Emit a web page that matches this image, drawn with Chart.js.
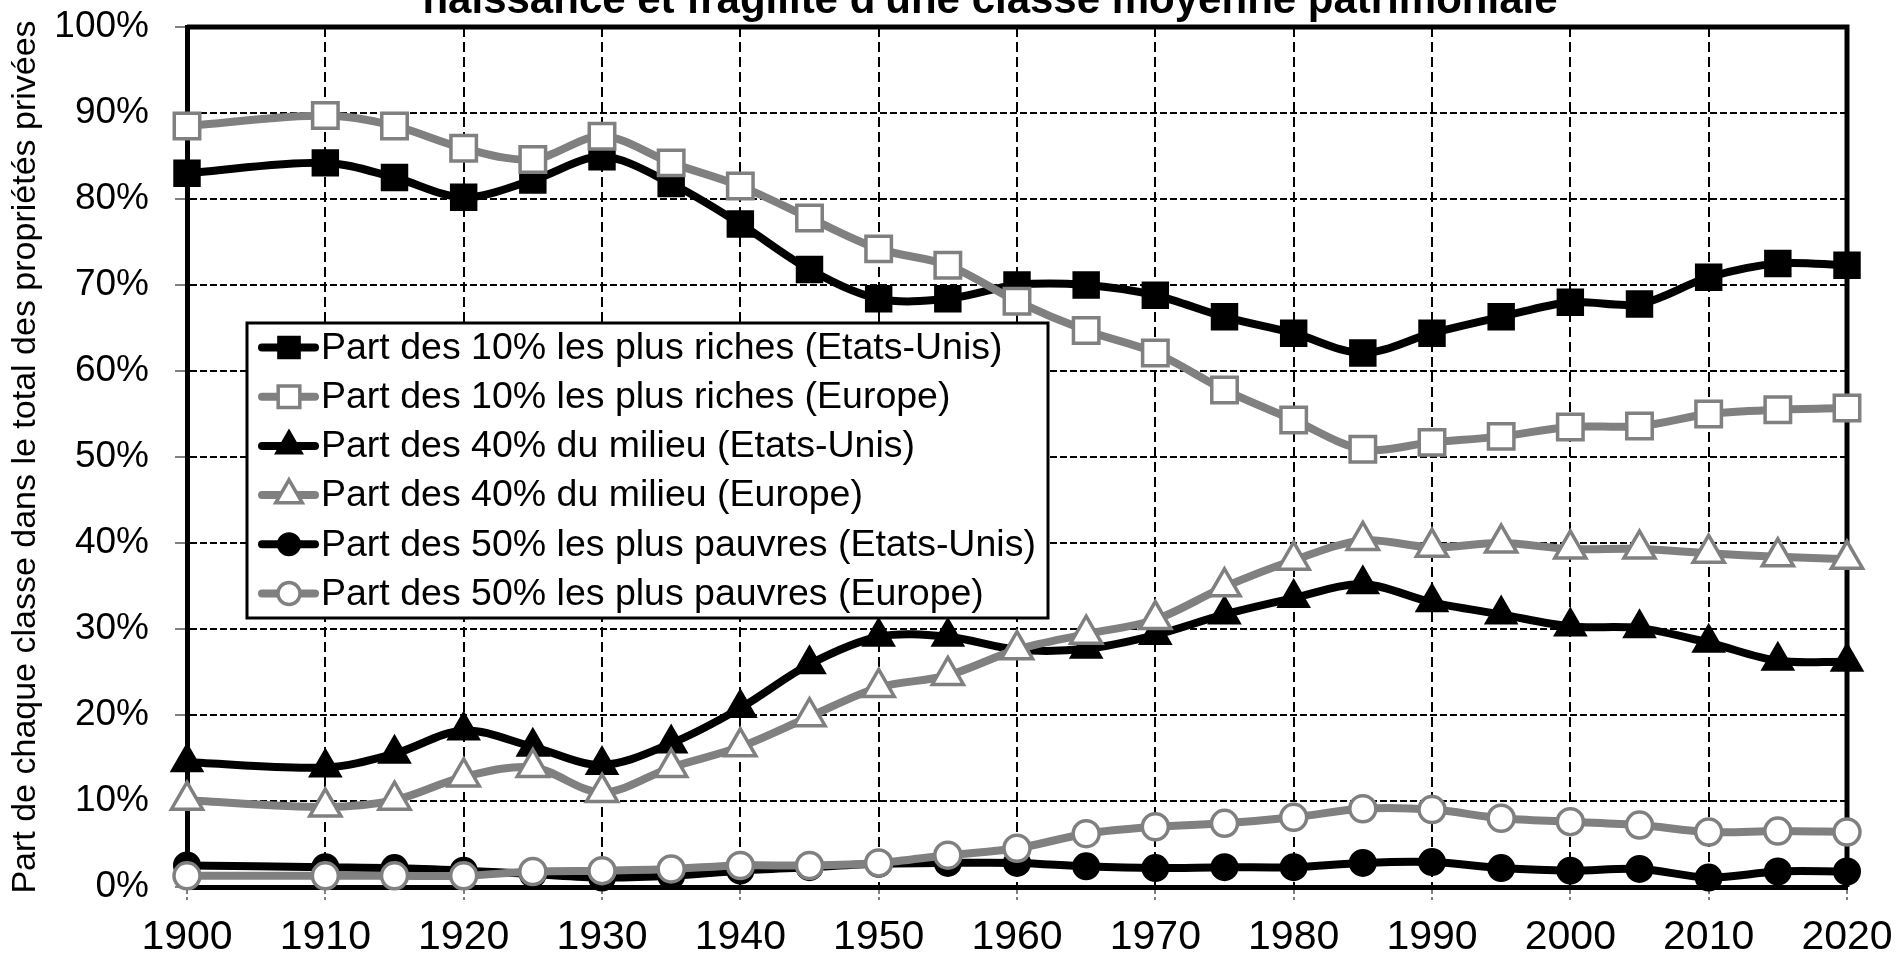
<!DOCTYPE html>
<html>
<head>
<meta charset="utf-8">
<title>Naissance et fragilité d'une classe moyenne patrimoniale</title>
<script src="https://cdn.jsdelivr.net/npm/chart.js"></script>
<style>
  html, body { margin: 0; padding: 0; background: #fff; }
</style>
</head>
<body>
<canvas id="graphique" width="1898" height="953"></canvas>
<script>
// Années (axe x linéaire)
const annees = [1900, 1910, 1915, 1920, 1925, 1930, 1935, 1940, 1945, 1950, 1955, 1960,
                1965, 1970, 1975, 1980, 1985, 1990, 1995, 2000, 2005, 2010, 2015, 2020];

// Parts en % du patrimoine total
const top10US = [83.0, 84.2, 82.5, 80.2, 82.2, 84.9, 81.8, 77.1, 71.8, 68.4, 68.4, 70.0,
                 70.0, 68.8, 66.3, 64.4, 62.1, 64.4, 66.3, 68.0, 67.8, 70.9, 72.5, 72.3];
const top10EU = [88.5, 89.7, 88.5, 85.9, 84.6, 87.3, 84.2, 81.5, 77.8, 74.2, 72.3, 68.1,
                 64.7, 62.1, 57.8, 54.3, 50.9, 51.7, 52.4, 53.5, 53.6, 55.0, 55.5, 55.7];
const mid40US = [14.5, 13.9, 15.5, 18.2, 16.3, 14.2, 16.7, 20.8, 25.9, 29.1, 29.1, 27.6,
                 27.7, 29.3, 31.7, 33.6, 35.2, 33.1, 31.7, 30.3, 30.1, 28.4, 26.3, 26.2];
const mid40EU = [10.1, 9.3, 10.1, 12.8, 13.9, 11.0, 13.9, 16.3, 19.8, 23.2, 24.6, 27.6,
                 29.4, 31.1, 34.9, 38.0, 40.3, 39.5, 40.0, 39.3, 39.3, 38.8, 38.4, 38.1];
const bot50US = [2.5, 2.3, 2.2, 1.9, 1.5, 1.1, 1.3, 1.9, 2.3, 2.7, 2.8, 2.8,
                 2.4, 2.2, 2.3, 2.3, 2.8, 2.9, 2.2, 1.9, 2.1, 1.1, 1.8, 1.8];
const bot50EU = [1.3, 1.3, 1.3, 1.3, 1.8, 1.9, 2.1, 2.5, 2.5, 2.8, 3.7, 4.5,
                 6.2, 7.0, 7.4, 8.1, 9.1, 9.0, 8.0, 7.6, 7.2, 6.4, 6.5, 6.4];

const etiquettesY = ['0%', '10%', '20%', '30%', '40%', '50%', '60%', '70%', '80%', '90%', '100%'];
const legendes = [
  'Part des 10% les plus riches (Etats-Unis)',
  'Part des 10% les plus riches (Europe)',
  'Part des 40% du milieu (Etats-Unis)',
  'Part des 40% du milieu (Europe)',
  'Part des 50% les plus pauvres (Etats-Unis)',
  'Part des 50% les plus pauvres (Europe)'
];
const titre = "naissance et fragilité d'une classe moyenne patrimoniale";
const titreAxeY = 'Part de chaque classe dans le total des propriétés privées';

const police = '"Liberation Sans", Arial, Helvetica, sans-serif';
Chart.defaults.font.family = police;
Chart.defaults.color = '#000';

const NOIR = '#000000';
const GRIS = '#808080';

function serie(label, valeurs, couleur, forme, plein, rayon) {
  return {
    label: label,
    data: annees.map((a, i) => ({ x: a, y: valeurs[i] })),
    borderColor: couleur,
    borderWidth: 8,
    tension: 0.33,
    fill: false,
    clip: false,
    pointStyle: forme,
    pointRadius: rayon,
    pointBackgroundColor: plein ? couleur : '#ffffff',
    pointBorderColor: couleur,
    pointBorderWidth: plein ? 2 : 3.5
  };
}

const datasets = [
  serie(legendes[0], top10US, NOIR, 'rect', true, 18),
  serie(legendes[1], top10EU, GRIS, 'rect', false, 18),
  serie(legendes[2], mid40US, NOIR, 'triangle', true, 18),
  serie(legendes[3], mid40EU, GRIS, 'triangle', false, 18),
  serie(legendes[4], bot50US, NOIR, 'circle', true, 13),
  serie(legendes[5], bot50EU, GRIS, 'circle', false, 13)
];
// les dernières séries passent au-dessus (comme dans Excel)
datasets.forEach((d, i) => { d.order = datasets.length - i; });

// cadre haut + droite
const cadre = {
  id: 'cadre',
  beforeDatasetsDraw(chart) {
    const { ctx, chartArea: a } = chart;
    ctx.save();
    ctx.strokeStyle = NOIR;
    ctx.lineWidth = 5;
    ctx.beginPath();
    ctx.moveTo(a.left, a.top);
    ctx.lineTo(a.right, a.top);
    ctx.lineTo(a.right, a.bottom);
    ctx.stroke();
    ctx.restore();
  }
};

// titre (coupé en haut, comme l'original)
const titrePlugin = {
  id: 'titre',
  afterDraw(chart) {
    const ctx = chart.ctx;
    ctx.save();
    ctx.font = 'bold 42px ' + police;
    ctx.fillStyle = NOIR;
    ctx.textAlign = 'center';
    ctx.textBaseline = 'alphabetic';
    ctx.fillText(titre, 990, 13);
    ctx.restore();
  }
};

// légende encadrée à l'intérieur du graphique
const legendeBoite = {
  id: 'legendeBoite',
  afterDraw(chart) {
    const { ctx, chartArea: a } = chart;
    const x0 = a.left + 60, y0 = a.top + 296, w = 801, h = 295, pas = 49.2;
    ctx.save();
    ctx.fillStyle = '#ffffff';
    ctx.fillRect(x0, y0, w, h);
    ctx.strokeStyle = NOIR;
    ctx.lineWidth = 3;
    ctx.strokeRect(x0, y0, w, h);
    chart.data.datasets.forEach((d, i) => {
      const yc = y0 + 24.5 + i * pas;
      ctx.strokeStyle = d.borderColor;
      ctx.lineWidth = d.borderWidth;
      ctx.lineCap = 'round';
      ctx.beginPath();
      ctx.moveTo(x0 + 15, yc);
      ctx.lineTo(x0 + 68, yc);
      ctx.stroke();
      ctx.fillStyle = d.pointBackgroundColor;
      ctx.strokeStyle = d.pointBorderColor;
      ctx.lineWidth = d.pointBorderWidth;
      Chart.helpers.drawPoint(ctx, {
        pointStyle: d.pointStyle, rotation: 0,
        radius: d.pointRadius * 0.85, borderWidth: d.pointBorderWidth
      }, x0 + 42, yc);
      ctx.fillStyle = NOIR;
      ctx.font = '37.5px ' + police;
      ctx.textAlign = 'left';
      ctx.textBaseline = 'middle';
      ctx.fillText(d.label, x0 + 74, yc + 1);
    });
    ctx.restore();
  }
};

new Chart(document.getElementById('graphique'), {
  type: 'line',
  data: { datasets: datasets },
  plugins: [cadre, titrePlugin, legendeBoite],
  options: {
    responsive: false,
    animation: false,
    devicePixelRatio: 1,
    layout: { padding: { top: 27, right: 51, left: 0, bottom: 0 } },
    plugins: {
      legend: { display: false },
      title: { display: false },
      tooltip: { enabled: false }
    },
    scales: {
      x: {
        type: 'linear',
        min: 1900,
        max: 2020,
        afterFit(scale) {
          scale.height = 66;
          scale.paddingLeft = 0;
          scale.paddingRight = 0;
        },
        ticks: {
          stepSize: 10,
          color: NOIR,
          font: { size: 41 },
          padding: 13,
          maxRotation: 0,
          autoSkip: false,
          callback: v => String(v)
        },
        grid: { color: NOIR, lineWidth: 2, tickLength: 13, tickColor: NOIR, tickWidth: 1, tickBorderDash: [4, 3] },
        border: { display: true, color: NOIR, width: 5, dash: [10, 5] }
      },
      y: {
        min: 0,
        max: 100,
        afterFit(scale) {
          scale.width = 187;
          scale.paddingTop = 0;
          scale.paddingBottom = 0;
        },
        ticks: {
          stepSize: 10,
          color: NOIR,
          font: { size: 37 },
          padding: 26,
          callback: v => etiquettesY[Math.round(v / 10)]
        },
        grid: { color: NOIR, lineWidth: 2, tickLength: 12, tickColor: NOIR, tickWidth: 1 },
        border: { display: true, color: NOIR, width: 5, dash: [7, 3] },
        title: {
          display: true,
          text: titreAxeY,
          color: NOIR,
          font: { size: 34 },
          padding: { top: 5, bottom: 0 }
        }
      }
    }
  }
});
</script>
</body>
</html>
